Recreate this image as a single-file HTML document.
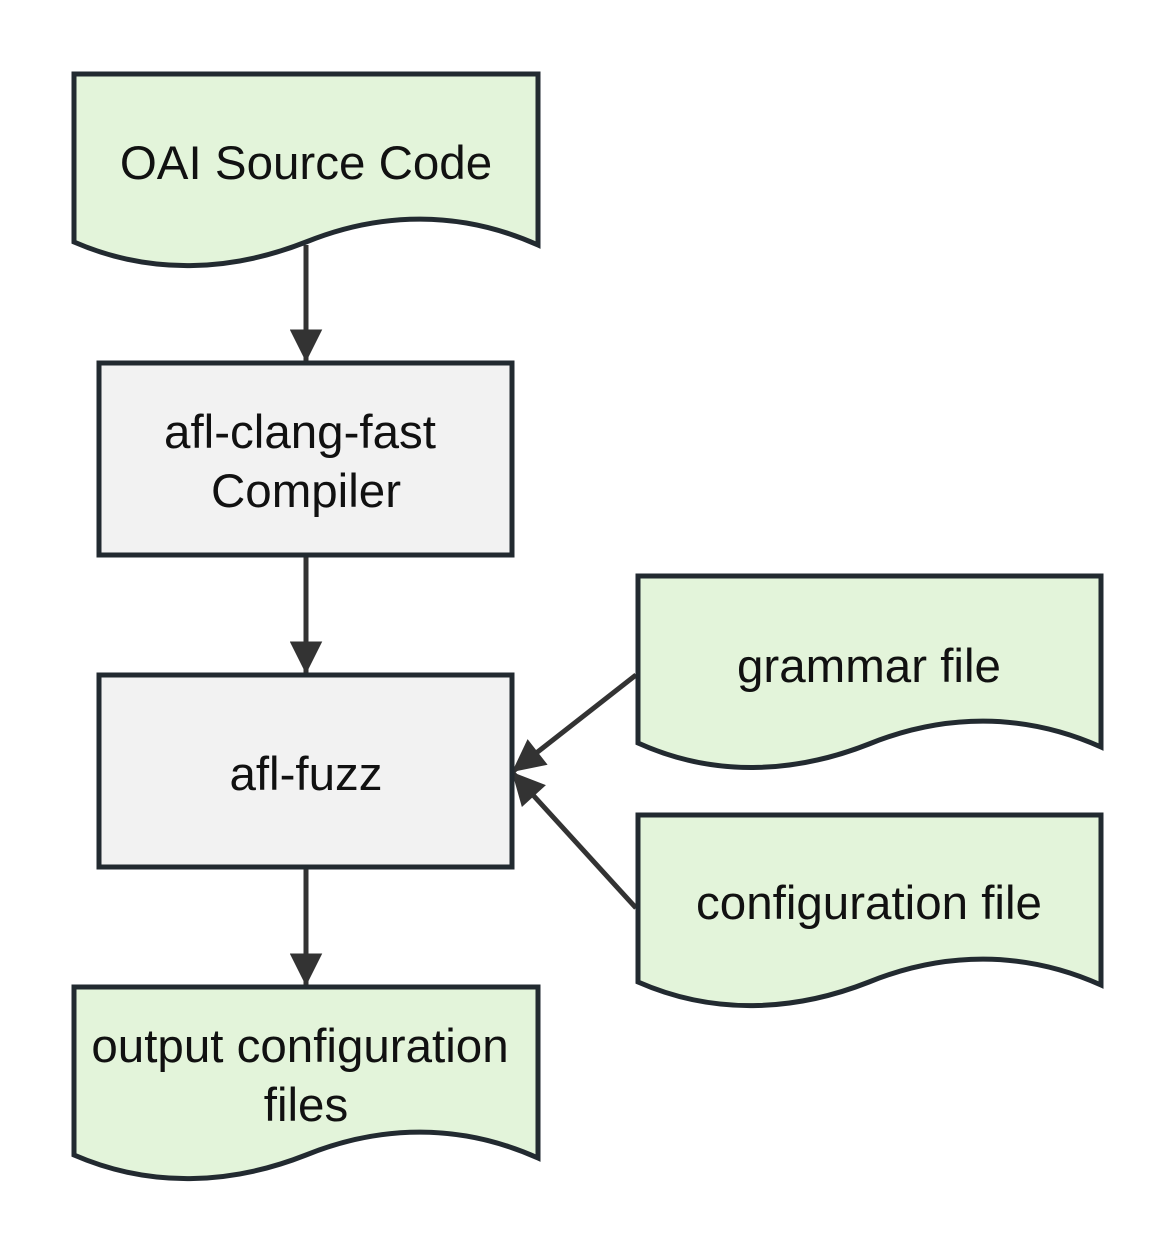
<!DOCTYPE html>
<html><head><style>body{margin:0;background:#fff}svg{display:block}</style></head><body>
<svg width="1176" height="1254" viewBox="0 0 1176 1254" xmlns="http://www.w3.org/2000/svg" style="font-family:'Liberation Sans',Arial,sans-serif" font-size="47.5" text-anchor="middle">
<defs><marker id="a" viewBox="0 0 10 10" refX="10" refY="5" markerWidth="7.5" markerHeight="6.5" orient="auto-start-reverse" markerUnits="strokeWidth"><path d="M0,0L10,5L0,10z" fill="#333"/></marker></defs>
<g stroke="#333" stroke-width="5" fill="none">
<line x1="306" y1="245" x2="306" y2="362" marker-end="url(#a)"/>
<line x1="306" y1="556" x2="306" y2="674" marker-end="url(#a)"/>
<line x1="306" y1="868" x2="306" y2="986" marker-end="url(#a)"/>
<line x1="636" y1="675" x2="512" y2="772" marker-end="url(#a)"/>
<line x1="636" y1="908" x2="512" y2="772" marker-end="url(#a)"/>
</g>
<g stroke="#222a30" stroke-width="5">
<path d="M74,74H538V245C460,210 380,212 306,242C230,272 150,275 74,242Z" fill="#e3f4da"/>
<rect x="99" y="363" width="413" height="192" fill="#f2f2f2"/>
<rect x="99" y="675" width="413" height="192" fill="#f2f2f2"/>
<path d="M74,987H538V1158C460,1123 380,1125 306,1155C230,1185 150,1188 74,1155Z" fill="#e3f4da"/>
<path d="M638,576H1101V747C1023,712 943,714 869,744C793,774 713,777 638,743Z" fill="#e3f4da"/>
<path d="M638,815H1101V985C1023,950 943,952 869,982C793,1012 713,1015 638,982Z" fill="#e3f4da"/>
</g>
<g fill="#111">
<text x="306" y="179">OAI Source Code</text>
<text x="300" y="448">afl-clang-fast</text>
<text x="306" y="507">Compiler</text>
<text x="306" y="790">afl-fuzz</text>
<text x="869" y="682">grammar file</text>
<text x="869" y="919">configuration file</text>
<text x="300" y="1062">output configuration</text>
<text x="306" y="1121">files</text>
</g>
</svg>
</body></html>
